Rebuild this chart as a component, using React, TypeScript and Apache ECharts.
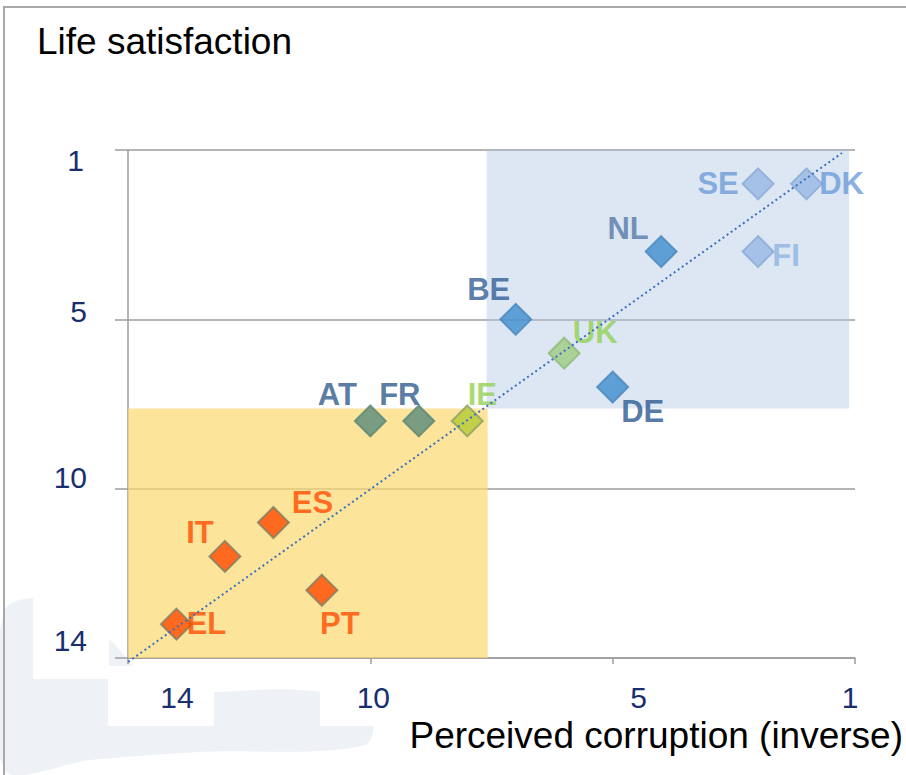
import React, { useEffect, useRef } from "react";
import * as echarts from "echarts";

// ---- data ----
const countries = ["DK", "SE", "FI", "NL", "BE", "UK", "DE", "IE", "FR", "AT", "ES", "IT", "PT", "EL"];
const corruptionRank = [1, 2, 2, 4, 7, 6, 5, 8, 9, 10, 12, 13, 11, 14];
const satisfactionRank = [1, 1, 3, 3, 5, 6, 7, 8, 8, 8, 11, 12, 13, 14];

const xTickValues = [15, 10, 5, 0];
const xTickLabels = ["14", "10", "5", "1"];
const yTickValues = [0, 5, 10, 15];
const yTickLabels = ["1", "5", "10", "14"];

const trendX = [15.08, 0.27];
const trendY = [15.2, 0.09];

const goodAreaX = [7.6, 0.12];
const goodAreaY = [0, 7.63];
const badAreaX = [15, 7.58];
const badAreaY = [7.63, 15];

// ---- styles ----
const FONT = "'Liberation Sans', Arial, sans-serif";
const TICK_COLOR = "#172f6e";
const GRID_COLOR = "#9c9c9c";

const countryStyle: Record<string, { fill: string; border: string; label: string; offset: number[] }> = {
  DK: { fill: "#97b8e3", border: "#8aaad4", label: "#6b9bd9", offset: [35, 0] },
  SE: { fill: "#97b8e3", border: "#8aaad4", label: "#6b9bd9", offset: [-40, 0] },
  FI: { fill: "#97b8e3", border: "#8aaad4", label: "#8db3e2", offset: [28, 4] },
  NL: { fill: "#3f8fcd", border: "#4a86bb", label: "#5278a8", offset: [-33, -23] },
  BE: { fill: "#3f8fcd", border: "#4a86bb", label: "#325d94", offset: [-27, -30] },
  DE: { fill: "#3f8fcd", border: "#4a86bb", label: "#2c5790", offset: [30, 24] },
  UK: { fill: "#9dcc7f", border: "#8cbb78", label: "#92d050", offset: [31, -21] },
  IE: { fill: "#b3c935", border: "#8f9f62", label: "#92d050", offset: [15, -26] },
  AT: { fill: "#598a7b", border: "#5f8676", label: "#2f5a8c", offset: [-33, -26] },
  FR: { fill: "#598a7b", border: "#5f8676", label: "#2f5a8c", offset: [-19, -26] },
  ES: { fill: "#ff4800", border: "#7d7f62", label: "#ff4b00", offset: [39, -20] },
  IT: { fill: "#ff4800", border: "#7d7f62", label: "#ff4b00", offset: [-25, -24] },
  PT: { fill: "#ff4800", border: "#7d7f62", label: "#ff4b00", offset: [18, 33] },
  EL: { fill: "#ff4800", border: "#7d7f62", label: "#ff4b00", offset: [30, -1] },
};

const xLabelPadding = [
  [0, 0, 0, 98],
  [0, 0, 0, 6],
  [0, 0, 0, 52],
  [0, 10, 0, 0],
];
const yLabelPadding = [
  [20, 3, 0, 0],
  [0, 0, 16, 0],
  [0, 0, 22, 0],
  [0, 0, 36, 0],
];

function buildRich(prefix: string, paddings: number[][]) {
  const rich: Record<string, any> = {};
  paddings.forEach((p, i) => {
    rich[prefix + i] = { padding: p, fontSize: 30, color: TICK_COLOR, fontFamily: FONT };
  });
  return rich;
}

const whiteBoxes = [
  [48, 121, 61, 76],
  [48, 272, 61, 76],
  [33, 437, 76, 76],
  [33, 559, 76, 120],
  [108, 666, 106, 60],
  [320, 666, 91, 60],
  [577, 666, 90, 60],
  [789, 666, 91, 60],
];

export default function App() {
  const ref = useRef<HTMLDivElement>(null);

  useEffect(() => {
    if (!ref.current) return;
    const chart = echarts.init(ref.current, null, { renderer: "svg" });

    const graphics: any[] = [
      {
        type: "polygon",
        z: -2,
        silent: true,
        shape: {
          smooth: 0.3,
          points: [
            [5, 610],
            [60, 600],
            [110, 640],
            [160, 688],
            [300, 690],
            [370, 705],
            [365, 745],
            [200, 752],
            [90, 760],
            [5, 770],
          ],
        },
        style: { fill: "#eef1f5" },
      },
      ...whiteBoxes.map((b) => ({
        type: "rect",
        z: -1,
        silent: true,
        shape: { x: b[0], y: b[1], width: b[2], height: b[3] },
        style: { fill: "#ffffff" },
      })),
      {
        type: "rect",
        z: -1,
        silent: true,
        shape: { x: 4, y: 7, width: 1000, height: 1000 },
        style: { fill: "none", stroke: "#a8a8a8", lineWidth: 2 },
      },
    ];

    const option: any = {
      animation: false,
      backgroundColor: "#ffffff",
      textStyle: { fontFamily: FONT },
      title: [
        {
          text: "Life satisfaction",
          left: 37,
          top: 23,
          padding: 0,
          textStyle: { fontSize: 37, fontWeight: "normal", color: "#000", fontFamily: FONT },
        },
        {
          text: "Perceived corruption (inverse)",
          right: 3,
          top: 717,
          padding: 0,
          textStyle: { fontSize: 37, fontWeight: "normal", color: "#000", fontFamily: FONT },
        },
      ],
      graphic: graphics,
      grid: { left: 128, right: 51, top: 150, bottom: 117 },
      xAxis: {
        type: "value",
        min: 0,
        max: 15,
        interval: 5,
        inverse: true,
        axisLine: { show: true, onZero: false, lineStyle: { color: GRID_COLOR, width: 1.5 } },
        axisTick: { show: true, length: 6, lineStyle: { color: GRID_COLOR, width: 1.5 } },
        splitLine: { show: false },
        axisLabel: {
          margin: 24,
          showMinLabel: true,
          showMaxLabel: true,
          formatter: (v: number) => {
            const i = xTickValues.indexOf(v);
            return i < 0 ? "" : `{x${i}|${xTickLabels[i]}}`;
          },
          rich: buildRich("x", xLabelPadding),
        },
      },
      yAxis: {
        type: "value",
        min: 0,
        max: 15,
        interval: 5,
        inverse: true,
        axisLine: { show: true, onZero: false, lineStyle: { color: GRID_COLOR, width: 1.5 } },
        axisTick: { show: true, length: 13, lineStyle: { color: GRID_COLOR, width: 1.5 } },
        splitLine: { show: true, lineStyle: { color: GRID_COLOR, width: 1.5 } },
        axisLabel: {
          margin: 41,
          showMinLabel: true,
          showMaxLabel: true,
          formatter: (v: number) => {
            const i = yTickValues.indexOf(v);
            return i < 0 ? "" : `{y${i}|${yTickLabels[i]}}`;
          },
          rich: buildRich("y", yLabelPadding),
        },
      },
      series: [
        {
          type: "scatter",
          z: 2,
          symbol: "diamond",
          symbolSize: 31,
          silent: true,
          data: countries.map((c, i) => {
            const st = countryStyle[c];
            return {
              name: c,
              value: [corruptionRank[i], satisfactionRank[i]],
              itemStyle: { color: st.fill, borderColor: st.border, borderWidth: 2 },
              label: {
                show: true,
                position: "inside",
                offset: st.offset,
                formatter: c,
                color: st.label,
                fontSize: 31,
                fontWeight: "bold",
                fontFamily: FONT,
                textBorderWidth: 0,
              },
            };
          }),
        },
        {
          type: "line",
          z: 3,
          silent: true,
          clip: false,
          symbol: "none",
          data: trendX.map((x, i) => [x, trendY[i]]),
          lineStyle: { color: "#3a6fc2", width: 2, type: [2, 3] },
          markArea: {
            silent: true,
            z: 1,
            label: { show: false },
            data: [
              [
                { coord: [goodAreaX[0], goodAreaY[0]], itemStyle: { color: "rgba(180,202,230,0.45)" } },
                { coord: [goodAreaX[1], goodAreaY[1]] },
              ],
              [
                { coord: [badAreaX[0], badAreaY[0]], itemStyle: { color: "rgba(251,216,112,0.7)" } },
                { coord: [badAreaX[1], badAreaY[1]] },
              ],
            ],
          },
        },
      ],
    };

    chart.setOption(option);
    return () => chart.dispose();
  }, []);

  return <div ref={ref} style={{ position: "fixed", left: 0, top: 0, width: 906, height: 775 }} />;
}
